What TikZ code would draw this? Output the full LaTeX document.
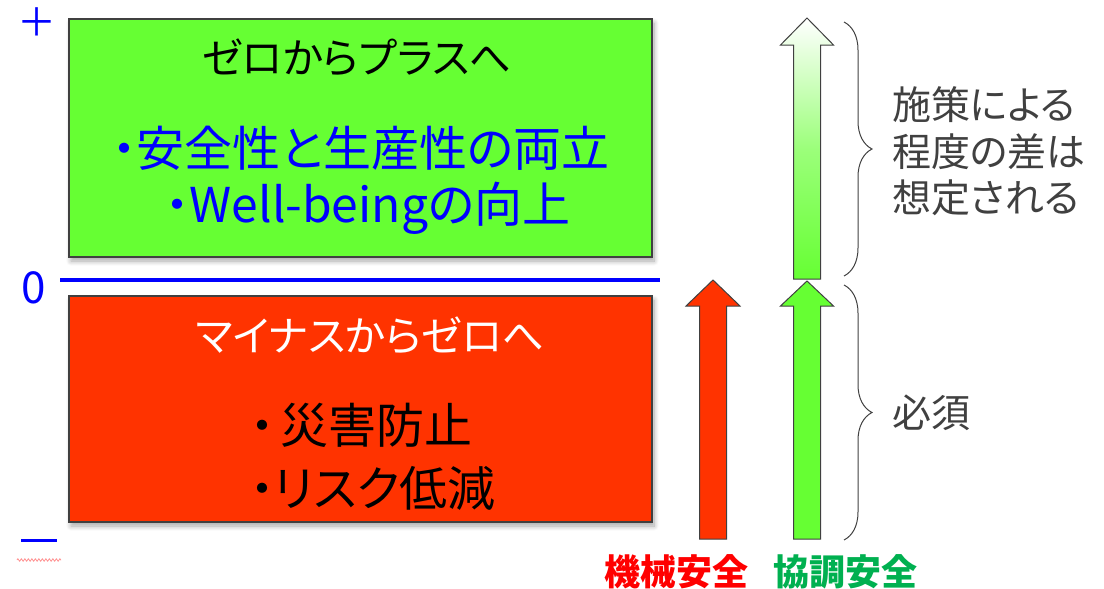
\documentclass[tikz,border=0pt]{standalone}
\usepackage{fontspec}
\setmainfont{Noto Sans CJK JP}[RawFeature=+palt]
\newfontfamily\jpfull{Noto Sans CJK JP}
\usetikzlibrary{shadows.blur,decorations.pathreplacing,decorations.pathmorphing}
\definecolor{boxgreen}{HTML}{66FF33}
\definecolor{boxred}{HTML}{FF3300}
\definecolor{lblue}{HTML}{0000FF}
\definecolor{lgreen}{HTML}{00B050}
\definecolor{graytxt}{HTML}{404040}
\definecolor{edgegray}{HTML}{404040}
\tikzset{
  panel/.style={draw=edgegray, line width=1.2pt, minimum width=583pt, inner sep=0pt,
    blur shadow={shadow xshift=2pt, shadow yshift=-4pt, shadow blur radius=5pt, shadow blur steps=8, shadow opacity=35}},
  bigarrow/.style={draw=edgegray, line width=1pt, line join=miter},
  sidebrace/.style={draw=graytxt, line width=1pt, decorate, decoration={brace, amplitude=28pt, aspect=0.5}},
  titletxt/.style={font=\fontsize{41.5}{46}\selectfont},
  itemtxt/.style={font=\fontsize{48}{52}\selectfont},
  sidetxt/.style={font=\fontsize{39}{46}\selectfont, text=graytxt, anchor=west, inner sep=0pt},
  axistxt/.style={text=lblue, inner sep=0pt},
  labeltxt/.style={font=\bfseries\fontsize{36}{40}\selectfont, inner sep=0pt}
}
\begin{document}
\begin{tikzpicture}[x=1pt,y=-1pt]
\useasboundingbox (0,0) rectangle (1104,589);
% boxes
\node[panel, fill=boxgreen, minimum height=238pt] (plusbox) at (360.5,138) {};
\node[panel, fill=boxred, minimum height=226pt] (minusbox) at (360.5,409) {};
% zero line
\coordinate (zl) at (60,280);
\coordinate (zr) at (660,280);
\draw[lblue, line width=4pt] (zl) -- (zr);
% axis labels
\node[axistxt, font=\jpfull\fontsize{39}{39}\selectfont] (plus) at (36.5,22) {＋};
\node[axistxt, font=\fontsize{44}{44}\selectfont] (zero) at (33.5,288) {0};
\coordinate (ml) at (21,540);
\coordinate (mr) at (57,540);
\draw[lblue, line width=3pt] (ml) -- (mr);
\coordinate (sql) at (17,560);
\coordinate (sqr) at (61,560);
\draw[red!45, line width=0.8pt, decorate, decoration={zigzag, segment length=3.5pt, amplitude=1.2pt}] (sql) -- (sqr);
% box texts
\node[titletxt, text=black] (t1) at (357,58) {ゼロからプラスへ};
\node[itemtxt, text=lblue] (t2) at (361,148) {・安全性と生産性の両立};
\node[itemtxt, text=lblue] (t3) at (368,208) {・Well-beingの向上};
\node[titletxt, text=white] (t4) at (370,336) {マイナスからゼロへ};
\node[itemtxt, text=black, anchor=west, inner sep=0pt] (t5) at (250,425) {・\hspace{6pt}災害防止};
\node[itemtxt, text=black, anchor=west, inner sep=0pt] (t6) at (250,488) {・リスク低減};
% arrows
\filldraw[bigarrow, fill=boxred] (699.5,539) -- (699.5,306) -- (686,306) -- (713,280) -- (740,306) -- (726.5,306) -- (726.5,539) -- cycle;
\filldraw[bigarrow, fill=boxgreen] (793.5,539) -- (793.5,306) -- (780.5,306) -- (807,281) -- (833.5,306) -- (820.5,306) -- (820.5,539) -- cycle;
\shadedraw[bigarrow, top color=white, bottom color=boxgreen, middle color=boxgreen!65] (793.5,279) -- (793.5,45) -- (780.5,45) -- (807,18) -- (833.5,45) -- (820.5,45) -- (820.5,279) -- cycle;
% braces
\coordinate (b1t) at (844,22);
\coordinate (b1b) at (844,276);
\coordinate (b2t) at (844,285);
\coordinate (b2b) at (844,540);
\draw[sidebrace] (b1t) -- (b1b);
\draw[sidebrace] (b2t) -- (b2b);
% side texts
\node[sidetxt] (s1) at (892,105) {施策による};
\node[sidetxt] (s2) at (892,152) {程度の差は};
\node[sidetxt] (s3) at (892,198) {想定される};
\node[sidetxt] (s4) at (892,413) {必須};
% labels
\node[labeltxt, text=red] (lab1) at (676,572) {機械安全};
\node[labeltxt, text=lgreen] (lab2) at (845,572) {協調安全};
\end{tikzpicture}
\end{document}
